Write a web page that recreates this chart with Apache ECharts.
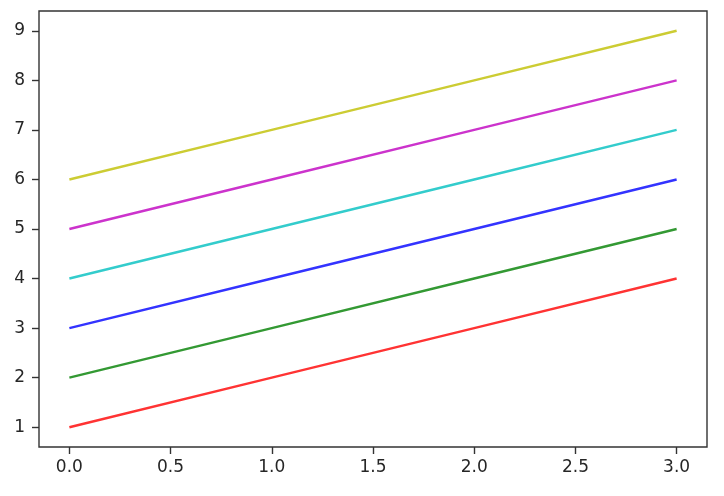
<!DOCTYPE html>
<html><head><meta charset="utf-8">
<script src="https://cdn.jsdelivr.net/npm/echarts@6/dist/echarts.min.js"></script>
<style>html,body{margin:0;padding:0;background:#fff}#c{width:724px;height:496px}</style>
</head><body><div id="c"></div>
<script>
var xValues = [0, 1, 2, 3];
var redValues = [1, 2, 3, 4];
var greenValues = [2, 3, 4, 5];
var blueValues = [3, 4, 5, 6];
var cyanValues = [4, 5, 6, 7];
var magentaValues = [5, 6, 7, 8];
var yellowValues = [6, 7, 8, 9];
var xTicks = [0, 0.5, 1, 1.5, 2, 2.5, 3];
var yTicks = [1, 2, 3, 4, 5, 6, 7, 8, 9];

var seriesDefs = [
  {vals: redValues, color: 'rgba(255,0,0,0.8)'},
  {vals: greenValues, color: 'rgba(0,128,0,0.8)'},
  {vals: blueValues, color: 'rgba(0,0,255,0.8)'},
  {vals: cyanValues, color: 'rgba(0,191,191,0.8)'},
  {vals: magentaValues, color: 'rgba(191,0,191,0.8)'},
  {vals: yellowValues, color: 'rgba(191,191,0,0.8)'}
];

var chart = echarts.init(document.getElementById('c'), null, {renderer: 'canvas'});
var labelStyle = {color: '#262626', fontFamily: 'DejaVu Sans', fontSize: 17};
chart.setOption({
  animation: false,
  grid: {left: 39, right: 17, top: 11, bottom: 49, show: true, borderColor: '#333', borderWidth: 1.4, backgroundColor: '#fff'},
  xAxis: {
    type: 'value', min: -0.15, max: 3.15,
    splitLine: {show: false},
    axisLine: {show: false, onZero: false},
    axisTick: {show: true, customValues: xTicks, length: 7, inside: false, lineStyle: {color: '#333', width: 1.4}},
    axisLabel: Object.assign({customValues: xTicks, margin: 12, formatter: function(v){return v.toFixed(1);}}, labelStyle)
  },
  yAxis: {
    type: 'value', min: 0.6, max: 9.4,
    splitLine: {show: false},
    axisLine: {show: false, onZero: false},
    axisTick: {show: true, customValues: yTicks, length: 7, inside: false, lineStyle: {color: '#333', width: 1.4}},
    axisLabel: Object.assign({customValues: yTicks, margin: 14, formatter: function(v){return String(v);}}, labelStyle)
  },
  series: seriesDefs.map(function(s){
    return {
      type: 'line', showSymbol: false, silent: true,
      data: xValues.map(function(x, i){return [x, s.vals[i]];}),
      lineStyle: {color: s.color, width: 2.5},
      itemStyle: {color: s.color}
    };
  })
});
</script></body></html>
